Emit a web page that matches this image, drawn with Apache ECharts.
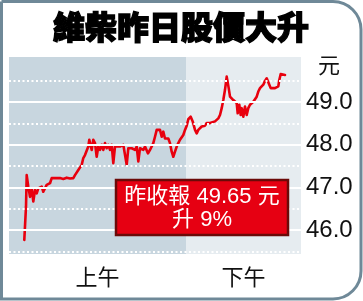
<!DOCTYPE html>
<html><head><meta charset="utf-8">
<script src="https://cdn.jsdelivr.net/npm/echarts@6/dist/echarts.min.js"></script>
<style>html,body{margin:0;padding:0;background:#fff}#c{width:363px;height:301px}</style>
</head><body><div id="c"></div>
<script>
// time ticks (session index units) and prices (HK$)
const ticks = [15.3,17,17.7,19.3,21,22.7,24.3,26,27.7,29.3,31,32.7,34.3,37.7,41,42.7,44.3,46,47.7,51,54.3,57.7,61,64.3,66,67.7,69.3,71,72.7,74.3,76,77.7,79.3,80.3,81.7,82.7,84.3,86,87.7,89.3,91,92.7,94.3,96,97.7,99.3,101,102.7,104.3,106,107.7,111,114.3,116,117.7,119.3,121,122.7,124.3,126,127.7,129.3,131,132.7,134.3,136,137.7,139,141,142.7,144.3,146,147.7,149.3,151,152.7,154.3,156,157.7,159.3,161,162.7,164.3,166,167.7,169.3,171,172.7,174.3,176,177.7,179.3,181.7,183.7,186,187.7,189.3,191,192.7,194.3,196,197.7,201,202.7,206,209.3,211,212.7,214.3,216,217.7,218.7,219.7,221,222.7,224.3,226,227.7,228.7,230.3,231.7,232.7,234.3,236,237.7,239.3,241,242.7,244.3,246,247.7,249.3,251,252.7,254.3,256,257.7,259,260.3,261.7,263.7,266,267.7,269.3,270.3,271.7,273.7,276];
const prices = [45.77,46.55,47.29,47.02,46.78,46.98,46.67,46.94,46.86,46.98,46.94,47.02,46.90,47.06,47.10,47.22,47.18,47.22,47.18,47.22,47.20,47.23,47.21,47.22,47.29,47.27,47.41,47.45,47.53,47.69,47.76,47.80,47.96,48.12,48.08,47.88,48.12,48.04,47.72,47.96,47.88,48.00,47.88,48.04,47.92,48.00,47.88,48.00,47.57,47.96,48.00,47.96,48.00,47.96,47.53,47.92,47.88,47.92,47.96,47.88,47.96,47.61,47.92,47.96,47.88,47.96,48.00,47.80,47.88,47.84,48.04,48.19,48.35,48.39,48.35,48.19,48.31,48.15,48.12,48.15,48.04,47.84,47.72,47.84,47.96,48.04,48.12,48.15,48.23,48.35,48.45,48.60,48.66,48.55,48.35,48.27,48.35,48.39,48.43,48.47,48.45,48.51,48.51,48.55,48.55,48.62,48.70,48.86,49.05,49.29,49.60,49.56,49.33,49.13,49.09,49.05,49.01,48.98,48.74,48.94,48.70,48.86,48.66,48.90,48.70,48.86,48.94,48.98,49.01,49.05,49.13,49.25,49.33,49.31,49.41,49.50,49.56,49.52,49.41,49.33,49.29,49.33,49.32,49.37,49.52,49.66,49.62,49.64];
const sessions = [{name:'上午', from:0, to:177}, {name:'下午', from:177, to:292}];
const yTicks = [46, 47, 48, 49];
const yHalf = [45.5, 46.5, 47.5, 48.5, 49.5];
const title = '維柴昨日股價大升';
const unit = '元';
const note = ['昨收報 49.65 元', '升 9%'];

const chart = echarts.init(document.getElementById('c'), null, {renderer:'canvas'});
const cjk = '"Noto Sans CJK TC","Noto Sans CJK SC",sans-serif';
const num = '"Liberation Sans",Arial,sans-serif';
const mixed = '"Liberation Sans","Noto Sans CJK TC",sans-serif';
const gridLines = yTicks.map(v => ({yAxis:v, lineStyle:{color:'#fff', width:2, type:'solid'}}))
  .concat(yHalf.map(v => ({yAxis:v, lineStyle:{color:'#fff', width:2, type:[2,2.5]}})));
const bgColors = ['#c8d6df', '#e6ecf0'];
chart.setOption({
  animation:false,
  grid:{left:9, right:62, top:57, bottom:47},
  xAxis:{type:'value', min:0, max:292, show:false},
  yAxis:{type:'value', position:'right', min:45.44, max:50.06,
    axisLine:{show:false}, axisTick:{show:false}, splitLine:{show:false},
    axisLabel:{customValues:yTicks, formatter:v=>v.toFixed(1), color:'#111', fontSize:24, fontFamily:num, margin:5}},
  series:[
    {type:'line', data:[], z:1, silent:true,
      markArea:{silent:true, data: sessions.map((s,i)=>[{xAxis:s.from, itemStyle:{color:bgColors[i]}, label:{show:true, position:'bottom', distance:12, formatter:s.name, color:'#111', fontSize:22, fontFamily:cjk}}, {xAxis:s.to}])},
      markLine:{silent:true, symbol:'none', label:{show:false}, data:gridLines}
    },
    {type:'line', z:3, showSymbol:false, data: ticks.map((t,i)=>[t, prices[i]]),
      lineStyle:{color:'#e8000e', width:2.6, join:'round', cap:'round'}, itemStyle:{color:'#e8000e'}}
  ],
  graphic:[
    {type:'rect', shape:{x:1.5, y:1.5, width:359.5, height:297.5, r:[0,28,28,0]}, style:{fill:'none', stroke:'#6f8998', lineWidth:3}, z:10},
    {type:'text', x:181, y:27, style:{text:title, fill:'#000', stroke:'#000', lineWidth:1.4, font:'900 32px '+cjk, textAlign:'center', textVerticalAlign:'middle'}, z:10},
    {type:'text', x:329, y:65, style:{text:unit, fill:'#111', font:'22px '+cjk, textAlign:'center', textVerticalAlign:'middle'}, z:10},
    {type:'rect', shape:{x:116, y:180, width:172, height:55}, style:{fill:'#e60012', stroke:'#6b0a08', lineWidth:2.5}, z:10},
    {type:'text', x:202, y:197, style:{text:note[0], fill:'#fff', font:'22px '+mixed, textAlign:'center', textVerticalAlign:'middle'}, z:11},
    {type:'text', x:202, y:220, style:{text:note[1], fill:'#fff', font:'22px '+mixed, textAlign:'center', textVerticalAlign:'middle'}, z:11}
  ]
});
</script></body></html>
